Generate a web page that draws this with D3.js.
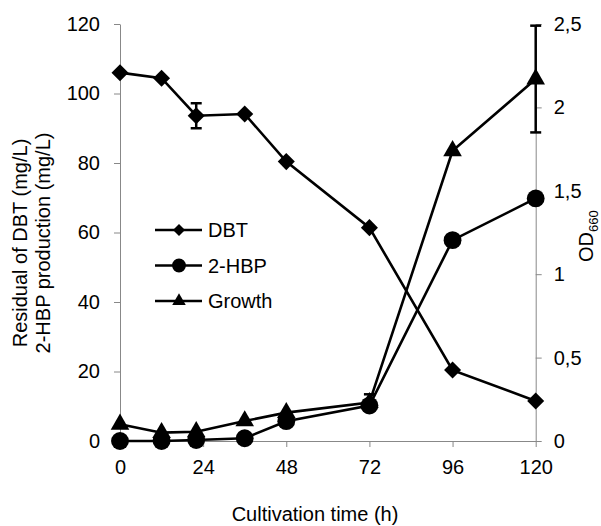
<!DOCTYPE html>
<html>
<head>
<meta charset="utf-8">
<script src="https://cdn.jsdelivr.net/npm/d3@7"></script>
<style>
  body { margin: 0; background: #fff; }
  svg text { font-family: "Liberation Sans", Arial, sans-serif; fill: #000; }
</style>
</head>
<body>
<div id="chart"></div>
<script>
// sampling times (h)
const hours = [0, 12, 22, 36, 48, 72, 96, 120];
const xTicks = [0, 24, 48, 72, 96, 120];
const leftTicks = [0, 20, 40, 60, 80, 100, 120];
const rightTicks = [0, 0.5, 1, 1.5, 2, 2.5];

// residual DBT (mg/L), left axis
const dbt = [106, 104.4, 93.6, 94.1, 80.4, 61.4, 20.4, 11.5];
const dbtErr = [0, 0, 3.6, 0, 0, 0, 0, 0];
// 2-HBP production (mg/L), left axis
const hbp = [0, 0, 0.3, 0.8, 5.7, 10.2, 57.8, 69.8];
// growth OD660, right axis
const growth = [0.1, 0.05, 0.055, 0.12, 0.17, 0.23, 1.74, 2.17];
const growthErr = [0, 0, 0, 0, 0, 0.05, 0, 0.32];

const width = 601, height = 526;
const fontSize = 20;

const svg = d3.select("#chart").append("svg")
  .attr("width", width)
  .attr("height", height);

const x = d3.scaleLinear().domain([0, 120]).range([120, 535.7]);
const yL = d3.scaleLinear().domain([0, 120]).range([441, 24]);
const yR = d3.scaleLinear().domain([0, 2.5]).range([441, 24]);

// square diamond (equal width and height), r = half diagonal
const squareDiamond = {
  draw(ctx, size) {
    const r = Math.sqrt(size / 2);
    ctx.moveTo(0, -r);
    ctx.lineTo(r, 0);
    ctx.lineTo(0, r);
    ctx.lineTo(-r, 0);
    ctx.closePath();
  }
};

function styleAxis(g) {
  g.select(".domain").attr("stroke", "#888").attr("stroke-width", 1);
  g.selectAll(".tick line").attr("stroke", "#888").attr("stroke-width", 1);
  g.selectAll(".tick text").style("font-size", fontSize + "px").attr("fill", "#000");
}

svg.append("g")
  .attr("transform", "translate(0,441)")
  .call(d3.axisBottom(x).tickValues(xTicks).tickSize(6).tickSizeOuter(0).tickPadding(13))
  .call(styleAxis);

svg.append("g")
  .attr("transform", "translate(120,0)")
  .call(d3.axisLeft(yL).tickValues(leftTicks).tickSize(6).tickSizeOuter(0).tickPadding(14))
  .call(styleAxis);

svg.append("g")
  .attr("transform", "translate(535.7,0)")
  .call(d3.axisRight(yR).tickValues(rightTicks).tickSize(6).tickSizeOuter(0).tickPadding(12)
    .tickFormat(d => String(d).replace(".", ",")))
  .call(styleAxis);

// axis titles
svg.append("text")
  .attr("x", 315).attr("y", 521)
  .attr("text-anchor", "middle")
  .style("font-size", fontSize + "px")
  .text("Cultivation time (h)");

const yt = svg.append("text")
  .attr("transform", "translate(0,243) rotate(-90)")
  .attr("text-anchor", "middle")
  .style("font-size", fontSize + "px");
yt.append("tspan").attr("x", 0).attr("y", 27).text("Residual of DBT (mg/L)");
yt.append("tspan").attr("x", 0).attr("y", 50).text("2-HBP production (mg/L)");

const rt = svg.append("text")
  .attr("transform", "translate(593,262) rotate(-90)")
  .attr("text-anchor", "start")
  .style("font-size", fontSize + "px");
rt.append("tspan").text("OD");
rt.append("tspan").attr("dy", 5).style("font-size", "13px").text("660");

const series = [
  { name: "Growth", values: growth, err: growthErr, y: yR, shape: d3.symbolTriangle, size: 150 },
  { name: "DBT", values: dbt, err: dbtErr, y: yL, shape: squareDiamond, size: 145 },
  { name: "2-HBP", values: hbp, err: null, y: yL, shape: d3.symbolCircle, size: 250 }
];

const line = d3.line();

series.forEach(s => {
  const pts = hours.map((h, i) => [x(h), s.y(s.values[i])]);
  const g = svg.append("g");

  if (s.err) {
    hours.forEach((h, i) => {
      if (!s.err[i]) return;
      const cx = x(h);
      const top = s.y(s.values[i] + s.err[i]);
      const bot = s.y(s.values[i] - s.err[i]);
      g.append("line").attr("x1", cx).attr("x2", cx).attr("y1", top).attr("y2", bot)
        .attr("stroke", "#000").attr("stroke-width", 2.5);
      [top, bot].forEach(yy => {
        g.append("line").attr("x1", cx - 5.5).attr("x2", cx + 5.5).attr("y1", yy).attr("y2", yy)
          .attr("stroke", "#000").attr("stroke-width", 2.5);
      });
    });
  }

  g.append("path")
    .attr("d", line(pts))
    .attr("fill", "none")
    .attr("stroke", "#000")
    .attr("stroke-width", 2.6);

  g.selectAll("path.mark")
    .data(pts)
    .join("path")
    .attr("class", "mark")
    .attr("transform", d => `translate(${d[0]},${d[1]})`)
    .attr("d", d3.symbol().type(s.shape).size(s.size))
    .attr("fill", "#000");
});

// legend
const legendRows = [
  { name: "DBT", shape: squareDiamond, size: 72 },
  { name: "2-HBP", shape: d3.symbolCircle, size: 150 },
  { name: "Growth", shape: d3.symbolTriangle, size: 80 }
];
const legendY = d3.scalePoint().domain(legendRows.map(d => d.name)).range([230, 301]);

const legend = svg.append("g");
legendRows.forEach(r => {
  const ly = legendY(r.name);
  legend.append("line").attr("x1", 155).attr("x2", 202).attr("y1", ly).attr("y2", ly)
    .attr("stroke", "#000").attr("stroke-width", 2.6);
  legend.append("path")
    .attr("transform", `translate(179,${ly})`)
    .attr("d", d3.symbol().type(r.shape).size(r.size))
    .attr("fill", "#000");
  legend.append("text")
    .attr("x", 208).attr("y", ly + 7)
    .style("font-size", fontSize + "px")
    .text(r.name);
});
</script>
</body>
</html>
